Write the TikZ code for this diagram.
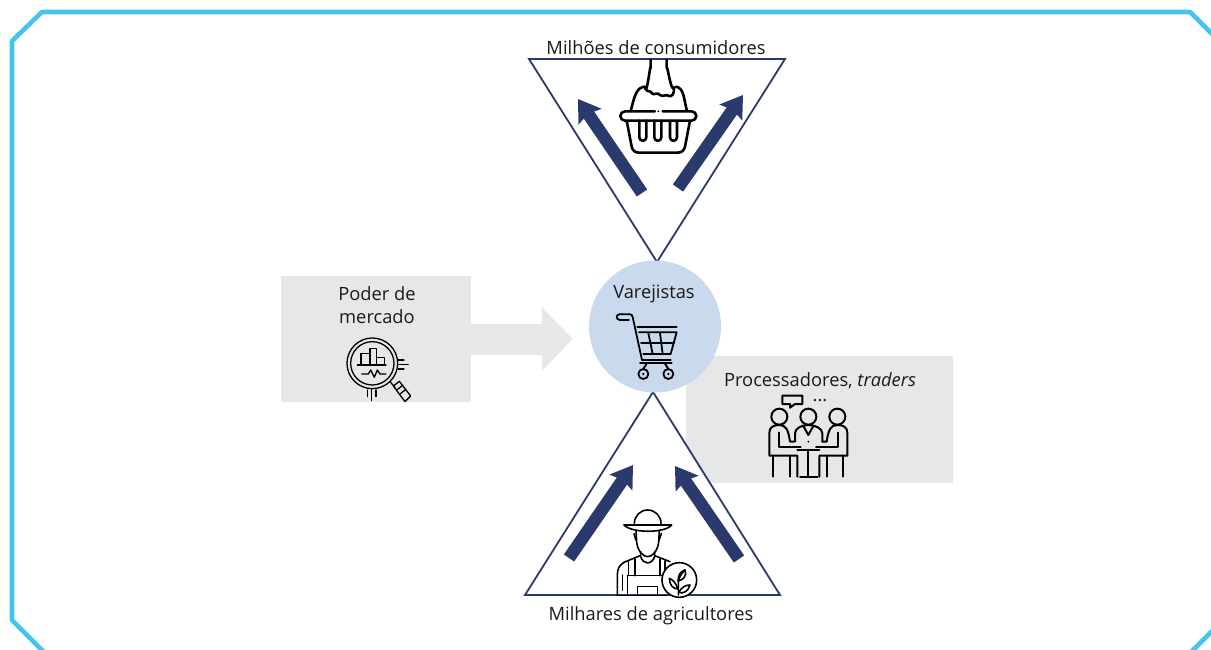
\documentclass[tikz,border=0pt]{standalone}
\usepackage{fontspec}
\setmainfont{Open Sans}
\usetikzlibrary{arrows.meta}
\definecolor{framecol}{HTML}{45C4F2}
\definecolor{navy}{HTML}{2A3A6C}
\definecolor{palegrey}{HTML}{E6E7E8}
\definecolor{paleblue}{HTML}{C9D9EE}
\tikzset{
	label text/.style={font=\fontsize{18.3}{23}\selectfont,inner sep=0pt,align=center,text=black!90},
	greybox/.style={fill=palegrey,inner sep=0pt},
	triangle line/.style={draw=navy,line width=1.8pt,fill=white,line join=miter},
	flowarrow/.style={draw=navy,line width=12.5pt,-{Stealth[inset=3pt,length=21pt,width=27pt]}},
	icon/.style={draw=black,line cap=round,line join=round}
}
\begin{document}
\begin{tikzpicture}[x=1pt,y=-1pt]
\useasboundingbox (0,0) rectangle (1211,650);
\begin{scope}
	\clip (0,0) rectangle (1211,650);
	\draw[framecol,line width=4.6pt,line join=round] (52,660)--(12,620)--(12,41)--(42,12)--(1190,12)--(1240,62);
	\draw[framecol,line width=4.6pt] (1240,603)--(1180,663);
\end{scope}
\node[greybox,minimum width=190pt,minimum height=126pt](powerbox) at (376,339){};
\node[greybox,minimum width=267pt,minimum height=127pt](tradebox) at (819.5,419.5){};
\coordinate (tl) at (529,59);
\coordinate (tr) at (785,59);
\coordinate (tb) at (657,262);
\coordinate (bl) at (525,595);
\coordinate (br) at (780,595);
\coordinate (bt) at (653,392);
\draw[triangle line] (tl)--(tr)--(tb)--cycle;
\draw[triangle line] (bl)--(br)--(bt)--cycle;
\node[circle,fill=paleblue,minimum size=132pt,inner sep=0pt](retailer) at (655,326.5){};
\draw[palegrey,line width=31pt,shorten >=16pt,-{Triangle[length=31pt,width=62pt]}] (powerbox.east)--(retailer.west |- powerbox.east);
\coordinate (a1s) at (642,193);
\coordinate (a1e) at (578,99);
\coordinate (a2s) at (678,188);
\coordinate (a2e) at (743,95);
\coordinate (a3s) at (569,558);
\coordinate (a3e) at (633,465);
\coordinate (a4s) at (739,559);
\coordinate (a4e) at (675,466);
\foreach \s/\e in {a1s/a1e,a2s/a2e,a3s/a3e,a4s/a4e}
	\draw[flowarrow] (\s)--(\e);
\node[label text](consumers) at (656,48){Milhões de consumidores};
\node[label text](farmers) at (651,616){Milhares de agricultores};
\node[label text](retailertext) at (654,294){Varejistas};
\node[label text](powertext) at (377,305){Poder de\\mercado};
\node[label text](tradetext) at (820,387){Processadores, \textit{traders}\\[-8pt]...};
\begin{scope}[shift={(520,30)},scale=1/3,icon,line width=2.6pt]
	\draw (392,90)--(392,115) to[out=90,in=-80] (376,175);
	\draw (440,90)--(440,115) to[out=90,in=-110] (462,172);
	\draw (376,175)..controls (382,190) and (390,178) ..(396,190)..controls (402,198) and (412,184) ..(420,195)..controls (430,203) and (440,190) ..(446,198)..controls (456,202) and (464,190) ..(462,172);
	\draw (375,170)..controls (352,172) and (345,190) ..(333,240);
	\draw (468,170)..controls (490,175) and (490,195) ..(500,240);
	\draw (405,244)--(315,244) arc[start angle=-90,end angle=-270,radius=14]--(515,272) arc[start angle=90,end angle=-90,radius=14]--(428,244);
	\fill (415,244) circle[radius=3];
	\draw (320,272)--(335,350)..controls (338,362) and (345,368) ..(358,368)--(472,368)..controls (485,368) and (492,362) ..(495,350)--(510,272);
	\foreach \x in {358,403,450}
		\draw (\x,272)--(\x,322) arc[start angle=180,end angle=0,radius=10.5]--(\x+21,272);
\end{scope}
\begin{scope}[shift={(580,255)},scale=1/3,icon,line width=1.8pt]
	\draw (118,178)--(150,178) arc[start angle=-90,end angle=0,radius=8]--(186,315)--(272,315);
	\draw (118,194)--(147,194);
	\draw (118,178) arc[start angle=-90,end angle=-270,radius=8];
	\draw (172,215)--(290,215);
	\draw (177,232)--(290,232)--(272,297)--(190,297);
	\draw (205,234)--(218,297);
	\draw (240,234)--(248,297);
	\draw (183,265)--(282,265);
	\draw (180,323)--(275,323);
	\draw (200,326)--(190,342);
	\draw (255,326)--(265,342);
	\foreach \x in {190,265}{
		\draw (\x,357) circle[radius=15];
		\fill (\x,357) circle[radius=4];
	}
\end{scope}
\begin{scope}[shift={(280,270)},scale=1/3,icon,line width=1.3pt]
	\draw (277,280) circle[radius=76];
	\draw (277,280) circle[radius=65];
	\draw (232,285)--(318,285);
	\draw (243,285)--(243,250)--(270,250);
	\draw (270,285)--(270,236)--(290,236)--(290,285);
	\draw (290,263)--(313,263)--(313,285);
	\draw (245,312)--(265,312)--(272,300)--(283,322)--(292,300)--(300,312)--(318,312);
	\draw (355,270)--(372,270);
	\draw (357,283)--(385,283);
	\draw (355,297)--(372,297);
	\draw (262,360)--(262,380);
	\draw (275,358)--(275,392);
	\draw (288,360)--(288,380);
	\draw (330,335)--(345,352);
	\draw (340,348)--(358,334)--(392,378)--(375,395)--cycle;
	\draw (350,360)--(368,346);
	\draw (360,372)--(378,358);
\end{scope}
\begin{scope}[shift={(760,390)},scale=1/3,icon,line width=2pt]
	\draw (67,17)--(127,17)--(127,42)--(105,42)--(90,53)--(90,42)--(67,42)--cycle;
	\foreach \x in {58,145,232}
		\draw (\x,80) circle[radius=24];
	\foreach \f/\x in {1/0,-1/290}{
		\begin{scope}[shift={(\x,0)},xscale=\f]
			\draw (112,260)--(112,197)--(28,197)--(28,128)..controls (28,112) and (40,105) ..(58,105)..controls (78,105) and (85,120) ..(90,155)--(102,155);
			\draw (57,128)--(57,172)--(122,172);
			\draw (40,260)--(40,197);
			\draw (90,197)--(90,260);
		\end{scope}
	}
	\draw (105,155)--(105,130)..controls (105,115) and (125,105) ..(145,105)..controls (165,105) and (187,115) ..(187,130)--(187,155);
	\draw (130,108)--(145,135)--(160,108);
	\fill (145,155) circle[radius=3];
	\draw (112,180)--(178,180);
	\draw (145,180)--(145,260);
	\draw (120,260)--(172,260);
\end{scope}
\begin{scope}[shift={(610,505)},scale=1/3,icon,line width=1.6pt]
	\draw (73,55) arc[start angle=180,end angle=360,radius=40];
	\draw (42,60)--(185,60)..controls (165,85) and (65,85) ..(42,60);
	\draw (78,76)--(80,112)..controls (84,140) and (100,155) ..(113,155)..controls (126,155) and (142,140) ..(146,112)--(148,76);
	\draw (72,86)--(78,106);
	\draw (154,86)--(147,106);
	\draw (92,140)--(92,155)..controls (100,180) and (125,180) ..(134,155)--(134,140);
	\draw (90,152)--(42,172)..controls (28,180) and (22,192) ..(22,210)--(22,270);
	\draw (134,152)--(180,170);
	\draw (55,170)--(55,212);
	\draw (75,162)--(75,212);
	\draw (150,162)--(150,212);
	\draw (165,168)--(165,212);
	\draw (52,212)--(165,212);
	\draw (52,212)--(52,270);
	\draw (37,210)--(37,256);
	\draw (82,270)--(82,245)--(142,245)--(142,270);
	\draw (22,272)--(170,272);
	\draw[fill=white] (208,225) circle[radius=52];
	\draw (205,270)--(205,232)..controls (207,215) and (215,205) ..(225,195);
	\draw (225,195)..controls (210,200) and (205,210) ..(204,228)..controls (220,225) and (232,212) ..(225,195);
	\draw (204,252)..controls (196,232) and (190,225) ..(178,220)..controls (178,240) and (190,252) ..(204,252);
	\draw (206,262)..controls (216,245) and (228,240) ..(240,240)..controls (235,258) and (220,268) ..(206,262);
\end{scope}
\end{tikzpicture}
\end{document}
